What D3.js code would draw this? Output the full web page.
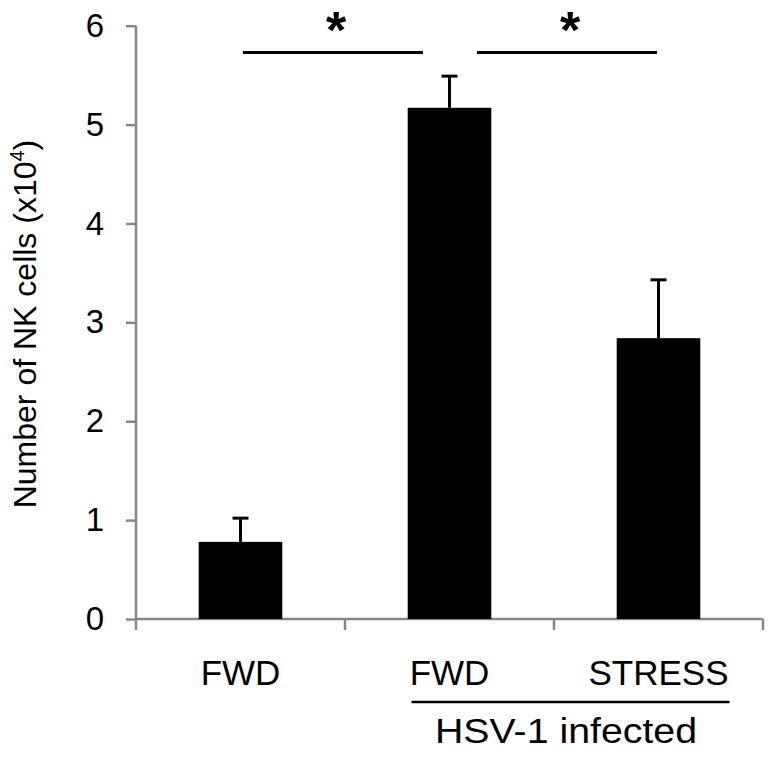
<!DOCTYPE html>
<html>
<head>
<meta charset="utf-8">
<script src="https://cdn.jsdelivr.net/npm/d3@7/dist/d3.min.js"></script>
<style>
  html, body { margin: 0; padding: 0; background: #fff; }
  svg { display: block; }
  text { font-family: "Liberation Sans", Arial, sans-serif; }
</style>
</head>
<body>
<svg id="chart" width="773" height="764"></svg>
<script>
// ---- data ----
const categories = ["FWD", "FWD", "STRESS"];
const means = [0.78, 5.17, 2.84];
const errors = [0.24, 0.32, 0.59];
const yTicks = [0, 1, 2, 3, 4, 5, 6];
const sigPairs = [[0, 1], [1, 2]];
const sigLevel = 5.73;
const groupLabel = "HSV-1 infected";
const groupMembers = [1, 2];

const svg = d3.select("#chart");
const axisColor = "#878787";

const y = d3.scaleLinear().domain([0, 6]).range([619, 25.7]);
const x = d3.scaleBand().domain(d3.range(categories.length)).range([136, 763]).padding(0);
const barW = x.bandwidth() * 0.4;
const cx = i => x(i) + x.bandwidth() / 2;

// y axis
const yAxis = svg.append("g").attr("transform", "translate(136,0)")
  .call(d3.axisLeft(y).tickValues(yTicks).tickFormat(d3.format("d")).tickSize(10).tickPadding(22));
yAxis.select(".domain").attr("stroke", axisColor).attr("stroke-width", 2.5).attr("d", `M0,${y(6)}V${y(0)}`);
yAxis.selectAll(".tick line").attr("stroke", axisColor).attr("stroke-width", 2.5);
yAxis.selectAll(".tick text").attr("fill", "#000").style("font-size", "33px")
  .style("font-family", '"Liberation Sans", Arial, sans-serif');

// x axis (boundary ticks)
const bounds = d3.range(categories.length + 1).map(i => i < categories.length ? x(i) : x.range()[1]);
const xg = svg.append("g");
xg.append("line").attr("x1", 136).attr("x2", 763).attr("y1", y(0)).attr("y2", y(0))
  .attr("stroke", axisColor).attr("stroke-width", 2.5);
xg.selectAll("line.bt").data(bounds).join("line").attr("class", "bt")
  .attr("x1", d => d).attr("x2", d => d).attr("y1", y(0)).attr("y2", y(0) + 11)
  .attr("stroke", axisColor).attr("stroke-width", 2.5);

// error bars (behind bars)
const eg = svg.append("g");
means.forEach((m, i) => {
  eg.append("line").attr("x1", cx(i)).attr("x2", cx(i)).attr("y1", y(m)).attr("y2", y(m + errors[i]))
    .attr("stroke", "#000").attr("stroke-width", 3);
  eg.append("line").attr("x1", cx(i) - 8).attr("x2", cx(i) + 8).attr("y1", y(m + errors[i])).attr("y2", y(m + errors[i]))
    .attr("stroke", "#000").attr("stroke-width", 3);
});

// bars
svg.append("g").selectAll("rect").data(means).join("rect")
  .attr("x", (d, i) => cx(i) - barW / 2).attr("width", barW)
  .attr("y", d => y(d)).attr("height", d => y(0) - y(d)).attr("fill", "#000");

// significance
const sg = svg.append("g");
sigPairs.forEach(([a, b], k) => {
  const x1 = k === 0 ? cx(a) + 2.5 : cx(a) + 27.5;
  const x2 = k === 0 ? cx(b) - 26.5 : cx(b) - 1.5;
  sg.append("line").attr("x1", x1).attr("x2", x2).attr("y1", y(sigLevel)).attr("y2", y(sigLevel))
    .attr("stroke", "#000").attr("stroke-width", 3);
  sg.append("text").attr("x", (x1 + x2) / 2 + 3).attr("y", 48).attr("text-anchor", "middle")
    .style("font-size", "52px").style("font-weight", "bold").text("*");
});

// category labels
svg.append("g").selectAll("text").data(categories).join("text")
  .attr("x", (d, i) => cx(i)).attr("y", 685).attr("text-anchor", "middle")
  .style("font-size", "35px").text(d => d);

// group line + label
const gx1 = cx(groupMembers[0]) - 38, gx2 = cx(groupMembers[1]) + 71;
svg.append("line").attr("x1", gx1).attr("x2", gx2).attr("y1", 702).attr("y2", 702)
  .attr("stroke", "#000").attr("stroke-width", 2.5);
svg.append("text").attr("x", (cx(groupMembers[0]) + cx(groupMembers[1])) / 2 + 12).attr("y", 743)
  .attr("text-anchor", "middle").style("font-size", "35px")
  .attr("textLength", 262).attr("lengthAdjust", "spacingAndGlyphs").text(groupLabel);

// y label
const yl = svg.append("text").attr("transform", `translate(36,${(136 + 512) / 2}) rotate(-90)`)
  .attr("text-anchor", "middle").style("font-size", "32px");
yl.append("tspan").text("Number of NK cells (x10");
yl.append("tspan").attr("dy", -12).style("font-size", "20px").text("4");
yl.append("tspan").attr("dy", 12).text(")");
</script>
</body>
</html>
